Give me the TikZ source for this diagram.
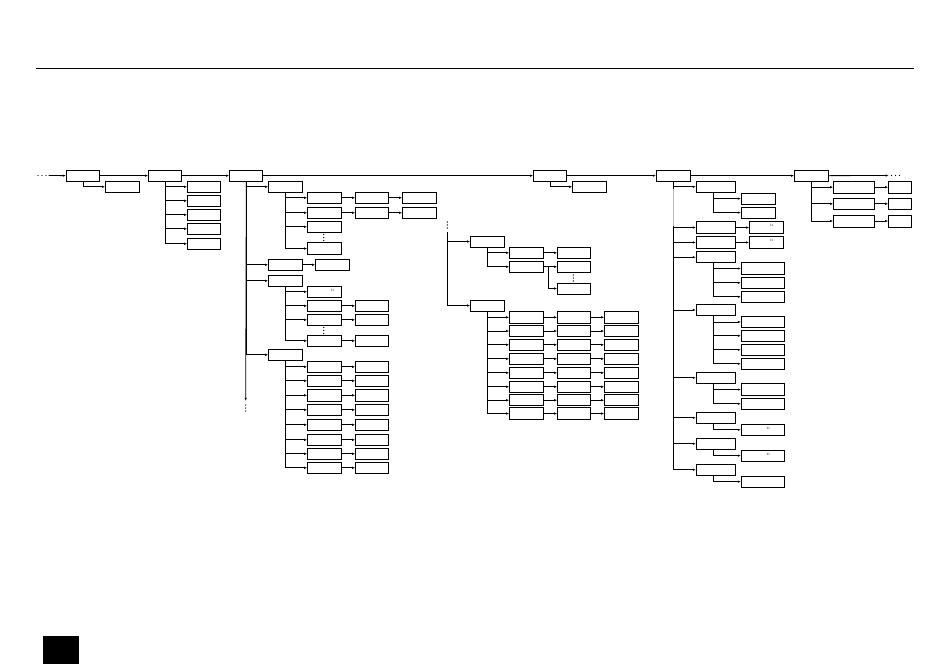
\documentclass[tikz,border=0pt]{standalone}
\usetikzlibrary{arrows.meta}
\begin{document}
\begin{tikzpicture}[x=1pt,y=-1pt,
  bx/.style={draw, line width=0.85pt, inner sep=0pt, outer sep=0pt},
  cn/.style={line width=0.8pt, -{Latex[length=3.2pt,width=2.4pt]}},
  ln/.style={line width=0.8pt},
  ntxt/.style={font=\fontsize{5}{5}\selectfont, text=black!65, inner sep=0pt}]
\newcommand\mybox[6]{\node[bx, minimum width={(#4-#2)*1pt}, minimum height={(#5-#3)*1pt}] (#1) at ({(#2+#4)/2},{(#3+#5)/2}) {#6};}
\newcommand\tr[1]{([xshift=17pt]#1.south west)}
\newcommand\vdt[2]{\fill (#1,#2) circle (0.7) (#1,#2+3) circle (0.7) (#1,#2+6) circle (0.7);}
\newcommand\hdt[2]{\fill (#1,#2) circle (0.7) (#1+4,#2) circle (0.7) (#1+8,#2) circle (0.7);}
\useasboundingbox (0,0) rectangle (950,670);
% top rule
\draw[line width=0.7pt] (36,68) coordinate (rl) -- (914,68) coordinate (rr);
% black square
\fill (43,636) rectangle (79,664);

% left dots
\node[inner sep=0pt, minimum width=9pt, minimum height=2pt] (ldots) at (42,175.5) {};
\hdt{38}{175.5}
% main chain
\mybox{A1}{66}{170.3}{99.7}{181}{}
\mybox{A1c}{105.3}{181.3}{139.3}{192.3}{}
\mybox{B1}{148.3}{170.3}{181.7}{181}{}
\mybox{C1}{229.3}{170.3}{262.7}{181}{}
\mybox{H1}{533.3}{170.3}{566.7}{181}{}
\mybox{H1c}{572.3}{181.3}{606.3}{192.3}{}
\mybox{M1}{656}{170.3}{690.7}{181}{}
\mybox{N1}{794.3}{170.3}{828.3}{181}{}
\node[inner sep=0pt, minimum width=9pt, minimum height=2pt] (rdots) at (895.5,175.5) {};
\hdt{891.5}{175.5}
\draw[cn] ([xshift=2pt]ldots.east) -- (A1.west);
\draw[cn] (A1) -- (B1);
\draw[cn] (B1) -- (C1);
\draw[cn] (C1) -- (H1);
\draw[cn] (H1) -- (M1);
\draw[cn] (M1) -- (N1);
\draw[cn] (N1.east) -- ([xshift=-2pt]rdots.west);
\draw[cn] \tr{A1} |- (A1c.west);
\draw[cn] \tr{H1} |- (H1c.west);

% B1 children
\foreach \i/\ya/\yb in {1/181.3/192.3,2/195.3/206.3,3/209.3/220.3,4/223.3/234.3,5/238.3/249.3}{
  \mybox{Bc\i}{187.3}{\ya}{220.7}{\yb}{}
  \draw[cn] \tr{B1} |- (Bc\i.west);
}

% C1 subtree
\mybox{D1}{268.3}{181.3}{302.3}{192.3}{}
\mybox{D2}{268.3}{259.3}{302.3}{270.3}{}
\mybox{D3}{268.3}{275.3}{302.3}{286.3}{}
\mybox{D4}{268.3}{349.3}{302.3}{360.3}{}
\coordinate (c1end) at (245.7,401);
\draw[cn] \tr{C1} -- (c1end);
\vdt{245.7}{405}
\foreach \d in {D1,D2,D3,D4}{\draw[cn] \tr{C1} |- (\d.west);}
% D1 children
\mybox{E11}{307.3}{192.3}{341.3}{203.3}{}
\mybox{F11}{355.3}{192.3}{388.7}{203.3}{}
\mybox{G11}{402.3}{192.3}{436.3}{203.3}{}
\mybox{E12}{307.3}{207.3}{341.3}{218.3}{}
\mybox{F12}{355.3}{207.3}{388.7}{218.3}{}
\mybox{G12}{402.3}{207.3}{436.3}{218.3}{}
\mybox{E13}{307.3}{221.3}{341.3}{232.3}{}
\mybox{E14}{307.3}{242.8}{341.3}{254.3}{}
\vdt{323.7}{234.5}
\foreach \e in {E11,E12,E13,E14}{\draw[cn] \tr{D1} |- (\e.west);}
\draw[cn] (E11) -- (F11); \draw[cn] (F11) -- (G11);
\draw[cn] (E12) -- (F12); \draw[cn] (F12) -- (G12);
% D2
\mybox{F2}{315.3}{259.3}{349.3}{270.3}{}
\draw[cn] (D2) -- (F2);
% D3 children
\mybox{E31}{307.3}{286.3}{341.3}{297.3}{}
\node[ntxt] at ([xshift=-8.5pt,yshift=1.3pt]E31.east) {n};
\mybox{E32}{307.3}{300.3}{341.3}{311.3}{}
\mybox{F32}{355.3}{300.3}{388.7}{311.3}{}
\mybox{E33}{307.3}{314.3}{341.3}{325.3}{}
\mybox{F33}{355.3}{314.3}{388.7}{325.3}{}
\mybox{E34}{307.3}{335.3}{341.3}{346.3}{}
\mybox{F34}{355.3}{335.3}{388.7}{346.3}{}
\vdt{323.7}{327.5}
\foreach \e in {E31,E32,E33,E34}{\draw[cn] \tr{D3} |- (\e.west);}
\draw[cn] (E32) -- (F32); \draw[cn] (E33) -- (F33); \draw[cn] (E34) -- (F34);
% D4 children
\foreach \i/\ya/\yb in {1/361.3/372.3,2/375.3/386.3,3/389.3/401.3,4/404.3/415.3,5/419.3/430.3,6/434.3/445.3,7/448.3/459.3,8/462.3/473.3}{
  \mybox{E4\i}{307.3}{\ya}{341.3}{\yb}{}
  \mybox{F4\i}{355.3}{\ya}{388.7}{\yb}{}
  \draw[cn] \tr{D4} |- (E4\i.west);
  \draw[cn] (E4\i) -- (F4\i);
}

% middle subtree
\vdt{447.3}{222}
\coordinate (itop) at (447.3,232);
\mybox{I1}{470.3}{236}{504.3}{247}{}
\mybox{I2}{470.3}{300}{504.3}{311}{}
\draw[cn] (itop) |- (I1.west);
\draw[cn] (itop) |- (I2.west);
\mybox{J1}{509.3}{247.3}{543.3}{258.3}{}
\mybox{K1}{557.3}{247.3}{590.7}{258.3}{}
\mybox{J2}{509.3}{261.3}{543.3}{272.3}{}
\mybox{K2}{557.3}{261.3}{590.7}{272.3}{}
\mybox{K3}{557.3}{283}{590.7}{294}{}
\vdt{573.3}{275}
\draw[cn] \tr{I1} |- (J1.west);
\draw[cn] \tr{I1} |- (J2.west);
\draw[cn] (J1) -- (K1);
\draw[cn] (J2) -- (K2);
\draw[cn] ([xshift=5pt]J2.east) |- (K3.west);
\foreach \i/\ya/\yb in {1/311.3/323.3,2/325.3/336.7,3/339.3/350.3,4/353.3/364.3,5/367.3/378.3,6/381.3/392.3,7/394.7/405.7,8/407.8/419.3}{
  \mybox{J3\i}{509.3}{\ya}{543.3}{\yb}{}
  \mybox{K3\i}{557.3}{\ya}{590.7}{\yb}{}
  \mybox{L3\i}{604.3}{\ya}{638.3}{\yb}{}
  \draw[cn] \tr{I2} |- (J3\i.west);
  \draw[cn] (J3\i) -- (K3\i);
  \draw[cn] (K3\i) -- (L3\i);
}
\draw[line width=1.6pt] (K31.south west) -- (K31.south east);

% M1 subtree
\mybox{P1}{696}{181.3}{735.7}{192.3}{}
\mybox{P2}{696}{221.8}{735.7}{233.3}{}
\mybox{P3}{696}{236.5}{735.7}{248.3}{}
\mybox{P4}{696}{251.7}{735.7}{262.7}{}
\mybox{P5}{696}{304.3}{735.7}{315.7}{}
\mybox{P6}{696}{372.3}{735.7}{383.3}{}
\mybox{P7}{696}{412.3}{735.7}{423.3}{}
\mybox{P8}{696}{438.3}{735.7}{449.3}{}
\mybox{P9}{696}{464.3}{735.7}{475.3}{}
\foreach \p in {P1,P2,P3,P4,P5,P6,P7,P8,P9}{\draw[cn] \tr{M1} |- (\p.west);}
\draw[line width=0.9pt, gray!55] (673.3,189) -- (673.3,226);
\mybox{Q1}{741}{193}{775.7}{204.3}{}
\mybox{Q2}{741}{207}{775.7}{218.3}{}
\draw[cn] \tr{P1} |- (Q1.west);
\draw[cn] \tr{P1} |- (Q2.west);
\mybox{R2}{749.3}{221.8}{783.3}{233.3}{}
\mybox{R3}{749.3}{236.5}{783.3}{248.3}{}
\node[ntxt] at ([xshift=-11.5pt,yshift=1.8pt]R2.east) {n};
\node[ntxt] at ([xshift=-11.5pt,yshift=1.8pt]R3.east) {n};
\draw[cn] (P2) -- (R2);
\draw[cn] (P3) -- (R3);
\foreach \i/\ya/\yb in {1/262.8/274.3,2/277.3/288.3,3/291.3/302.3}{
  \mybox{S4\i}{741}{\ya}{784.3}{\yb}{}
  \draw[cn] \tr{P4} |- (S4\i.west);
}
\foreach \i/\ya/\yb in {1/316.3/327.7,2/330.3/341.3,3/344.3/355.3,4/358.3/369.3}{
  \mybox{S5\i}{741}{\ya}{784.3}{\yb}{}
  \draw[cn] \tr{P5} |- (S5\i.west);
}
\foreach \i/\ya/\yb in {1/383.8/395.3,2/398.3/409.3}{
  \mybox{S6\i}{741}{\ya}{784.3}{\yb}{}
  \draw[cn] \tr{P6} |- (S6\i.west);
}
\mybox{S71}{741}{424.3}{784.3}{435.3}{}
\mybox{S81}{741}{450}{784.3}{461.3}{}
\mybox{S91}{741}{476}{784.3}{487.3}{}
\node[ntxt] at ([xshift=-16pt,yshift=1.5pt]S71.east) {n};
\node[ntxt] at ([xshift=-16pt,yshift=1.5pt]S81.east) {n};
\draw[cn] \tr{P7} |- (S71.west);
\draw[cn] \tr{P8} |- (S81.west);
\draw[cn] \tr{P9} |- (S91.west);

% N1 subtree
\foreach \i/\ya/\yb in {1/181.3/193/,2/198.3/209.3,3/215/227}{
  \mybox{T\i}{833.3}{\ya}{874.3}{\yb}{}
  \mybox{U\i}{888.3}{\ya}{911.7}{\yb}{}
  \draw[cn] \tr{N1} |- (T\i.west);
  \draw[cn] (T\i) -- (U\i);
}
\end{tikzpicture}
\end{document}
